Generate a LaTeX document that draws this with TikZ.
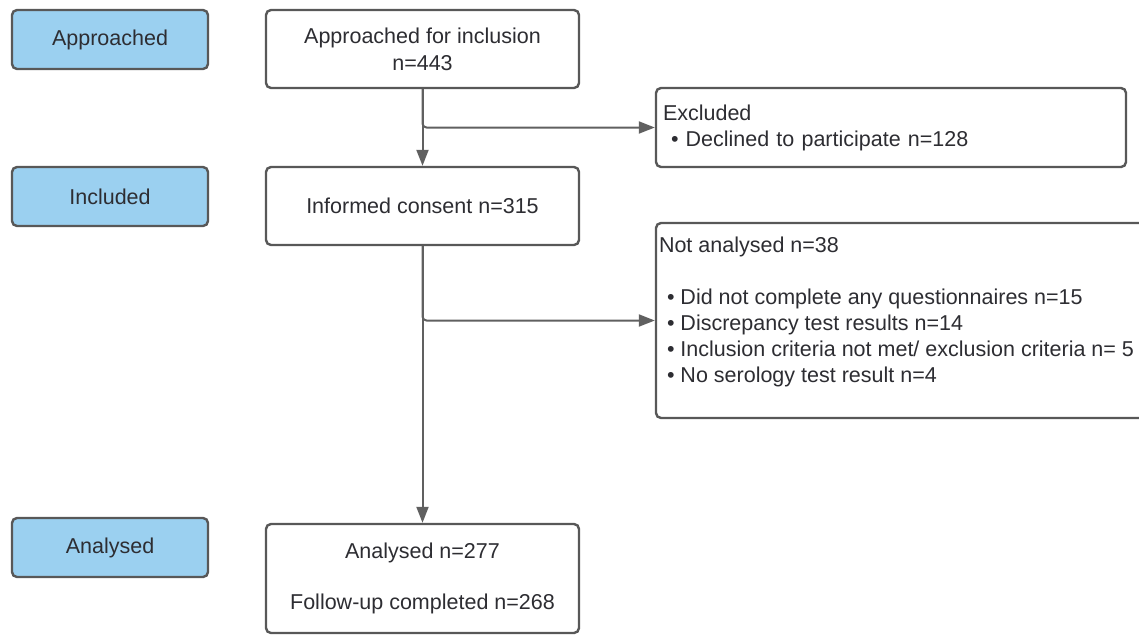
\documentclass[tikz,border=0pt]{standalone}
\usepackage{fontspec}
\setmainfont{Liberation Sans}
\usepackage{tikz}
\usetikzlibrary{arrows.meta}

\definecolor{stageblue}{RGB}{155,208,240}
\definecolor{boxgray}{RGB}{88,88,88}
\definecolor{linegray}{RGB}{96,96,96}
\definecolor{textgray}{RGB}{45,45,50}

\tikzset{
	stagebox/.style={draw=boxgray, line width=2.4pt, fill=stageblue, rounded corners=5pt,
		minimum width=196pt, minimum height=59pt, text=textgray},
	flowbox/.style={draw=boxgray, line width=2.4pt, fill=white, rounded corners=5pt,
		minimum width=313pt, text=textgray, align=center},
	flowline/.style={draw=linegray, line width=2pt, -{Triangle[length=16pt,width=12pt]}},
}

\begin{document}
\begin{tikzpicture}[x=1pt, y=-1pt, font=\fontsize{21.5}{26}\selectfont]
		\useasboundingbox (0,0) rectangle (1139,635);
		%----------------------------------------------------
		% Stage labels, left column
		%----------------------------------------------------
		\node[stagebox] (approached) at (110,39.5) {Approached};
		\node[stagebox] (included) at (110,196.5) {Included};
		\node[stagebox] (analysedstage) at (110,547.5) {Analysed};
		
		%----------------------------------------------------
		% Main flow boxes
		%----------------------------------------------------
		\node[flowbox, minimum height=78pt] (approach) at (422.5,49) {Approached for inclusion\\[1pt]n=443};
		\node[flowbox, minimum height=78pt] (consent) at (422.5,206) {Informed consent n=315};
		\node[flowbox, minimum height=109pt] (analysed) at (422.5,578.5) {Analysed n=277\\[25pt]Follow-up completed n=268};
		
		%----------------------------------------------------
		% Side boxes (drop outs)
		%----------------------------------------------------
		\node[flowbox, text width=456pt, align=left, inner xsep=7pt, minimum height=79pt] (excluded) at (891,127.5)
			{Excluded\\\hspace*{8pt}\textbullet\ Declined to participate n=128};
		\node[flowbox, minimum width=520pt, minimum height=195pt] (notanalysed) at (916,320.5) {};
		\node[anchor=north west, align=left, text=textgray, inner sep=0pt] (notanalysedtext)
			at ([shift={(4,14.5)}]notanalysed.north west)
			{Not analysed n=38\\[26pt]
			\hspace*{8pt}\textbullet\ Did not complete any questionnaires n=15\\
			\hspace*{8pt}\textbullet\ Discrepancy test results n=14\\
			\hspace*{8pt}\textbullet\ Inclusion criteria not met/ exclusion criteria n= 5\\
			\hspace*{8pt}\textbullet\ No serology test result n=4};
		
		%----------------------------------------------------
		% Connectors
		%----------------------------------------------------
		\draw[flowline] (approach.south) -- (consent.north);
		\draw[flowline, rounded corners=4pt] (approach.south) |- (excluded.west);
		\draw[flowline] (consent.south) -- (analysed.north);
		\draw[flowline, rounded corners=4pt] (consent.south) |- (notanalysed.west);
		
		%\draw (approached) -- (approach);
	\end{tikzpicture}
\end{document}
